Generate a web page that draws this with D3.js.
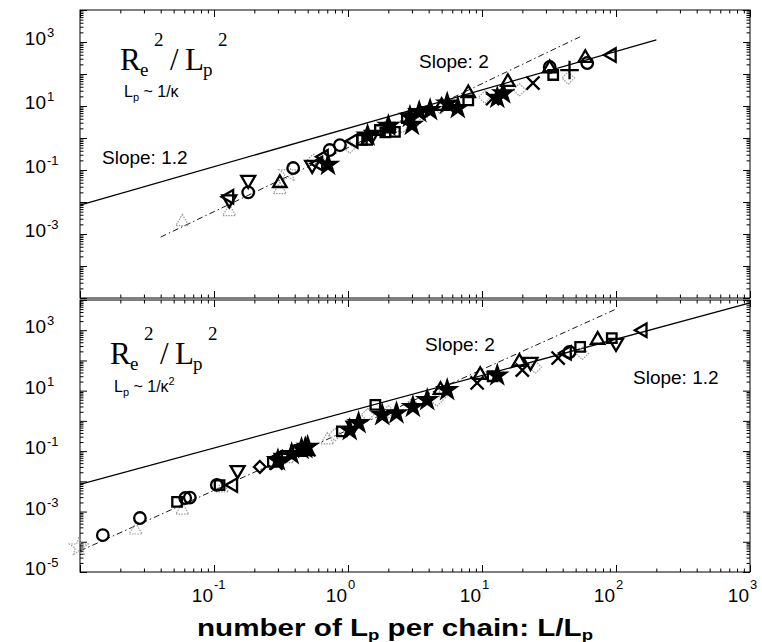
<!DOCTYPE html>
<html>
<head>
<meta charset="utf-8">
<script src="https://cdn.jsdelivr.net/npm/d3@7"></script>
<style>
body { margin: 0; background: #fff; }
text { font-family: "Liberation Sans", Arial, Helvetica, sans-serif; fill: #000; }
.serif { font-family: "Liberation Serif", "Times New Roman", serif; }
</style>
</head>
<body>
<svg id="chart" width="762" height="642"></svg>
<script>
// DATA ////////////////////////////////////////////////////////////////////

const xDomain = [0.01, 1000];
const yDomain = [1e-5, 1e4];
const xLabelExps = [-1, 0, 1, 2, 3];
const topYLabelExps = [3, 1, -1, -3];
const botYLabelExps = [3, 1, -1, -3, -5];

// guide lines (end points)
const topSlope12 = [[0.01, 0.008], [200, 1160]];
const topSlope2 = [[0.04, 8e-4], [54, 1458]];
const botSlope12 = [[0.01, 0.008], [1000, 7962]];
const botSlope2 = [[0.01, 5e-5], [100, 5000]];

// top panel: Lp ~ 1/kappa
const topTriUp = [[0.31, 0.039], [2.0, 2.1], [5.0, 10], [7.9, 25], [15.6, 56], [32, 150], [59, 316]];
const topTriUpGray = [[0.058, 0.0024], [0.13, 0.0049], [0.31, 0.024]];
const topTriDown = [[0.13, 0.012], [0.18, 0.049], [0.54, 0.145], [1.51, 1.24]];
const topTriLeft = [[0.13, 0.0145], [0.6, 0.16], [0.66, 0.26], [1.1, 0.8], [93, 390]];
const topCircle = [[0.18, 0.02], [0.39, 0.115], [0.73, 0.42], [0.87, 0.6], [32, 165], [61, 220]];
const topCircleGray = [[2.5, 2.3], [3.76, 6.5]];
const topSquare = [[1.27, 0.87], [1.39, 0.87], [1.73, 1.78], [1.9, 1.5], [2.06, 2.1], [2.24, 1.55], [2.75, 4.2], [7.9, 15], [34, 93]];
const topDiamondGray = [[0.55, 0.2], [1.03, 0.52], [3.2, 3.3], [4.9, 8.7], [10.5, 19], [19, 32], [44, 75]];
const topStar = [[0.71, 0.145], [1.4, 1.2], [2.0, 2.4], [2.9, 4.6], [3.0, 2.6], [3.4, 6.5], [4.1, 7.5], [5.5, 12], [6.6, 8.7], [13, 18], [14.4, 25]];
const topStarGray = [[0.36, 0.081]];
const topCross = [[12, 17], [24, 52]];
const topPlus = [[45, 133]];

// bottom panel: Lp ~ 1/kappa^2
const botTriUp = [[0.5, 0.1], [4.9, 10.5], [9.7, 33], [19, 89], [73, 480]];
const botTriUpGray = [[0.026, 2.4e-4], [0.058, 1.1e-3], [0.115, 6e-3], [0.35, 0.055], [0.7, 0.23]];
const botTriDown = [[0.15, 0.0235], [0.32, 0.06], [1.1, 0.7], [23, 89], [100, 380]];
const botTriLeft = [[0.139, 7.5e-3], [0.3, 0.06], [43, 178], [158, 1000]];
const botCircle = [[0.0148, 1.66e-4], [0.028, 6.1e-4], [0.061, 2.8e-3], [0.066, 2.9e-3], [0.105, 7.6e-3], [45, 190]];
const botSquare = [[0.053, 2.1e-3], [0.11, 7.5e-3], [0.275, 0.044], [0.45, 0.1], [0.9, 0.45], [1.6, 3.4], [12, 30], [54, 280], [93, 550]];
const botDiamond = [[0.22, 0.03]];
const botDiamondGray = [[0.8, 0.35], [1.4, 1.6], [2, 2], [3, 3.5], [4.6, 4.9], [5.3, 9], [25, 60], [56, 170]];
const botStar = [[0.3, 0.05], [0.38, 0.08], [0.45, 0.12], [0.48, 0.126], [0.5, 0.14], [1.03, 0.5], [1.2, 0.85], [1.8, 1.57], [2.3, 1.8], [3.05, 2.9], [3.9, 4.9], [5.5, 10.5], [13, 32]];
const botStarGray = [[0.0098, 6.7e-5]];
const botCross = [[0.29, 0.04], [9.2, 18], [20, 48], [37, 120]];

// SETUP ///////////////////////////////////////////////////////////////////

const LEFT = 80, RIGHT = 750;
const GRAY = "#9a9a9a";

const svg = d3.select("#chart");

const x = d3.scaleLog().domain(xDomain).range([LEFT, RIGHT]);

// marker styles
const STYLES = {
    triUp:       { type: d3.symbolTriangle2, rot: 0,   size: 130, color: "#000" },
    triUpGray:   { type: d3.symbolTriangle2, rot: 0,   size: 120, color: GRAY, dotted: true },
    triDown:     { type: d3.symbolTriangle2, rot: 180, size: 140, color: "#000" },
    triLeft:     { type: d3.symbolTriangle2, rot: -90, size: 130, color: "#000" },
    circle:      { type: d3.symbolCircle,    rot: 0,   size: 105, color: "#000" },
    circleGray:  { type: d3.symbolCircle,    rot: 0,   size: 100, color: GRAY, dotted: true },
    square:      { type: d3.symbolSquare2,   rot: 0,   size: 115, color: "#000" },
    diamond:     { type: d3.symbolDiamond2,  rot: 0,   size: 90,  color: "#000" },
    diamondGray: { type: d3.symbolDiamond2,  rot: 0,   size: 100, color: GRAY, dotted: true },
    star:        { type: d3.symbolStar,      rot: 0,   size: 95,  color: "#000", fill: true },
    starGray:    { type: d3.symbolStar,      rot: 0,   size: 110, color: GRAY, dotted: true },
    cross:       { type: d3.symbolTimes,     rot: 0,   size: 115, color: "#000" },
    plus:        { type: d3.symbolPlus,      rot: 0,   size: 115, color: "#000" }
};

function minorTicks(lo, hi, max) {
    var out = [];
    for (var k = lo; k <= hi; k++) {
        for (var m = 2; m <= 9; m++) {
            var v = m * Math.pow(10, k);
            if (v < max) out.push(v);
        }
    }
    return out;
}

const xMajor = d3.range(-2, 4).map(function (k) { return Math.pow(10, k); });
const xMinor = minorTicks(-2, 2, xDomain[1]);
const yMajor = d3.range(-5, 5).map(function (k) { return Math.pow(10, k); });
const yMinor = minorTicks(-5, 3, yDomain[1]);

// "10" with a raised exponent
function powLabel(g, px, py, exp, supDy) {
    g.append("text").attr("x", px).attr("y", py)
        .attr("text-anchor", "end").style("font-size", "19px").text("10");
    g.append("text").attr("x", px + 1).attr("y", py - supDy)
        .style("font-size", "13px").text(exp < 0 ? "-" + (-exp) : exp);
}

// R_e^2 / L_p^2 heading
function ratioLabel(g, px, py) {
    var t = g.append("text").attr("class", "serif");
    t.append("tspan").attr("x", px).attr("y", py).style("font-size", "31px").text("R");
    t.append("tspan").attr("x", px + 20).attr("y", py + 6).style("font-size", "19px").text("e");
    t.append("tspan").attr("x", px + 34).attr("y", py - 24).style("font-size", "19px").text("2");
    t.append("tspan").attr("x", px + 50).attr("y", py).style("font-size", "31px").text("/");
    t.append("tspan").attr("x", px + 65).attr("y", py).style("font-size", "31px").text("L");
    t.append("tspan").attr("x", px + 83).attr("y", py + 6).style("font-size", "19px").text("p");
    t.append("tspan").attr("x", px + 98).attr("y", py - 24).style("font-size", "19px").text("2");
}

function lpLabel(g, px, py, squared) {
    var t = g.append("text").attr("x", px).attr("y", py).style("font-size", "16px");
    t.append("tspan").text("L");
    t.append("tspan").attr("dy", 4).style("font-size", "11px").text("p");
    t.append("tspan").attr("dy", -4).text(" ~ 1/\u03ba");
    if (squared) t.append("tspan").attr("dy", -7).style("font-size", "11px").text("2");
}

// PANELS //////////////////////////////////////////////////////////////////

function drawPanel(cfg) {
    var y = d3.scaleLog().domain(yDomain).range([cfg.y1, cfg.y0]);
    var g = svg.append("g");

    // ticks on all four sides, pointing inwards
    var axes = [
        [d3.axisBottom(x), "translate(0," + cfg.y1 + ")", xMajor, xMinor],
        [d3.axisTop(x), "translate(0," + cfg.y0 + ")", xMajor, xMinor],
        [d3.axisLeft(y), "translate(" + LEFT + ",0)", yMajor, yMinor],
        [d3.axisRight(y), "translate(" + RIGHT + ",0)", yMajor, yMinor]
    ];
    axes.forEach(function (a) {
        g.append("g").attr("transform", a[1])
            .call(a[0].tickValues(a[2]).tickSize(-7).tickFormat(""))
            .call(function (s) { s.select(".domain").remove(); });
        g.append("g").attr("transform", a[1])
            .call(a[0].tickValues(a[3]).tickSize(-3.5).tickFormat(""))
            .call(function (s) { s.select(".domain").remove(); });
    });
    g.selectAll(".tick line").attr("stroke", "#000").attr("stroke-width", 1);

    g.append("rect")
        .attr("x", LEFT).attr("y", cfg.y0)
        .attr("width", RIGHT - LEFT).attr("height", cfg.y1 - cfg.y0)
        .attr("fill", "none").attr("stroke", "#000").attr("stroke-width", 1);

    // y labels
    cfg.yLabels.forEach(function (e) {
        powLabel(g, 46, y(Math.pow(10, e)) + 3, e, 8);
    });

    // guide lines
    var line = d3.line().x(function (d) { return x(d[0]); }).y(function (d) { return y(d[1]); });
    g.append("path").datum(cfg.solid).attr("d", line)
        .attr("fill", "none").attr("stroke", "#000").attr("stroke-width", 1.3);
    g.append("path").datum(cfg.dashed).attr("d", line)
        .attr("fill", "none").attr("stroke", "#000").attr("stroke-width", 0.9)
        .attr("stroke-dasharray", "6,3,1.5,3");

    // markers
    cfg.series.forEach(function (s) {
        var st = STYLES[s.style];
        g.append("g").selectAll("path")
            .data(s.pts)
            .enter().append("path")
            .attr("d", d3.symbol().type(st.type).size(st.size))
            .attr("transform", function (d) {
                return "translate(" + x(d[0]) + "," + y(d[1]) + ") rotate(" + st.rot + ")";
            })
            .attr("fill", st.fill ? st.color : "none")
            .attr("stroke", st.color)
            .attr("stroke-width", st.dotted ? 1.2 : 2.3)
            .attr("stroke-dasharray", st.dotted ? "1.5,1.2" : null);
    });

    ratioLabel(g, cfg.headX, cfg.headY);
    lpLabel(g, cfg.lpX, cfg.lpY, cfg.squared);
    cfg.notes.forEach(function (n) {
        g.append("text").attr("x", n[0]).attr("y", n[1]).style("font-size", "19px").text(n[2]);
    });
}

drawPanel({
    y0: 10, y1: 298,
    yLabels: topYLabelExps,
    solid: topSlope12, dashed: topSlope2,
    series: [
        { style: "diamondGray", pts: topDiamondGray },
        { style: "circleGray", pts: topCircleGray },
        { style: "triUpGray", pts: topTriUpGray },
        { style: "starGray", pts: topStarGray },
        { style: "triUp", pts: topTriUp },
        { style: "triDown", pts: topTriDown },
        { style: "triLeft", pts: topTriLeft },
        { style: "circle", pts: topCircle },
        { style: "square", pts: topSquare },
        { style: "star", pts: topStar },
        { style: "cross", pts: topCross },
        { style: "plus", pts: topPlus }
    ],
    headX: 120, headY: 70,
    lpX: 124, lpY: 97, squared: false,
    notes: [[102, 164, "Slope: 1.2"], [419, 68, "Slope: 2"]]
});

drawPanel({
    y0: 300, y1: 572,
    yLabels: botYLabelExps,
    solid: botSlope12, dashed: botSlope2,
    series: [
        { style: "diamondGray", pts: botDiamondGray },
        { style: "triUpGray", pts: botTriUpGray },
        { style: "starGray", pts: botStarGray },
        { style: "triUp", pts: botTriUp },
        { style: "triDown", pts: botTriDown },
        { style: "triLeft", pts: botTriLeft },
        { style: "circle", pts: botCircle },
        { style: "square", pts: botSquare },
        { style: "diamond", pts: botDiamond },
        { style: "star", pts: botStar },
        { style: "cross", pts: botCross }
    ],
    headX: 110, headY: 364,
    lpX: 114, lpY: 392, squared: true,
    notes: [[425, 351, "Slope: 2"], [633, 384, "Slope: 1.2"]]
});

// x labels under the bottom panel
var xl = svg.append("g");
xLabelExps.forEach(function (e) {
    powLabel(xl, x(Math.pow(10, e)) - 1, 602, e, 13);
});

// x axis title, stretched to the width of the original's heavy face
var title = svg.append("text")
    .attr("x", 197).attr("y", 636)
    .attr("textLength", 396).attr("lengthAdjust", "spacingAndGlyphs")
    .style("font-size", "24px").style("font-weight", "bold");
title.append("tspan").text("number of L");
title.append("tspan").attr("dy", 4).style("font-size", "15px").text("p");
title.append("tspan").attr("dy", -4).text(" per chain:  L/L");
title.append("tspan").attr("dy", 4).style("font-size", "15px").text("p");
</script>
</body>
</html>
